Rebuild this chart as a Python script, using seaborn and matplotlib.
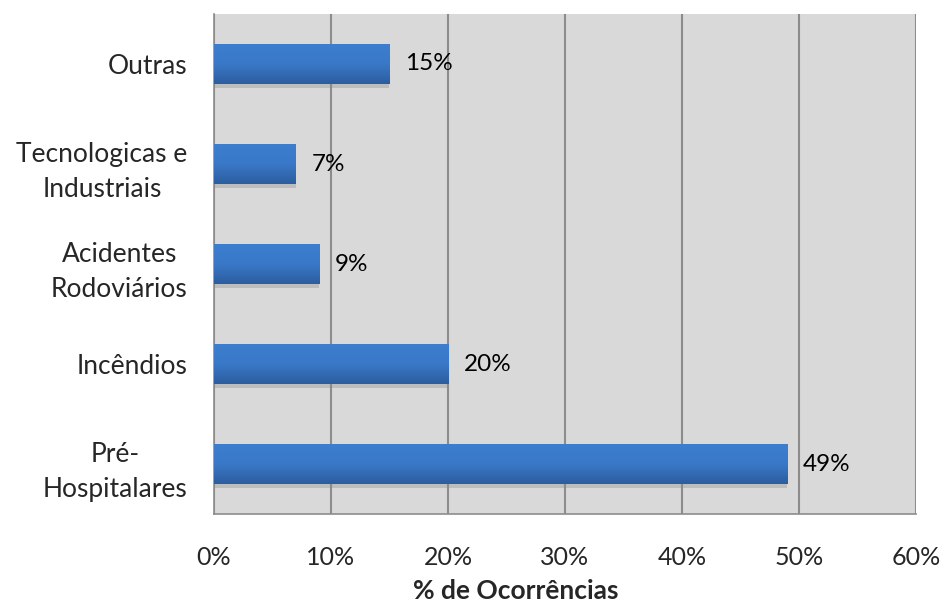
import numpy as np
import pandas as pd
import matplotlib
matplotlib.use("Agg")
import matplotlib.pyplot as plt
import matplotlib.patheffects as pe
from matplotlib.colors import LinearSegmentedColormap
import seaborn as sns

# dados do gráfico
categorias = ["Outras", "Tecnologicas e\nIndustriais", "Acidentes\nRodoviários",
              "Incêndios", "Pré-\nHospitalares"]
percentagens = [15, 7, 9, 20, 49]
ticks_x = [0, 10, 20, 30, 40, 50, 60]

df = pd.DataFrame({"categoria": categorias, "pct": percentagens})

sns.set_theme(style="white")
plt.rcParams['font.family'] = ['Lato', 'DejaVu Sans']

fig = plt.figure(figsize=(9.43, 6.06), dpi=100)
ax = fig.add_axes([0.2269, 0.1518, 0.9714 - 0.2269, 0.9769 - 0.1518])
ax.set_facecolor("#D9D9D9")

sns.barplot(data=df, x="pct", y="categoria", orient="h", width=0.4,
            color="#3A78C8", linewidth=0, ax=ax, zorder=3)

# gradiente nas barras
grad = LinearSegmentedColormap.from_list("g", ["#2C5D9E", "#3A79C9", "#3D7ECF"])
gimg = np.linspace(0, 1, 100).reshape(-1, 1)
for p in ax.patches:
    x0, y0 = p.get_x(), p.get_y()
    w, h = p.get_width(), p.get_height()
    p.set_edgecolor("none")
    p.set_path_effects([pe.SimplePatchShadow(offset=(0, -3), shadow_rgbFace="#8A8A8A", alpha=0.35),
                        pe.Normal()])
    im = ax.imshow(gimg, cmap=grad, aspect="auto", extent=(x0, x0 + w, y0 + h, y0),
                   origin="lower", zorder=4)
    im.set_clip_path(p)
    ax.text(x0 + w + 1.35, y0 + h / 2, f"{w:.0f}%", va="center", ha="left",
            fontsize=17.5, color="black", zorder=5)

ax.set_xlim(0, 60)
ax.set_ylim(len(categorias) - 0.5, -0.5)
ax.set_xticks(ticks_x)
ax.set_xticklabels([f"{t}%" for t in ticks_x])

# grelha vertical
ax.grid(axis="x", color="#8C8C8C", linewidth=1.5, zorder=1)
ax.set_axisbelow(True)

# eixos
for s in ["top", "right"]:
    ax.spines[s].set_visible(False)
for s in ["left", "bottom"]:
    ax.spines[s].set_color("#8C8C8C")
    ax.spines[s].set_linewidth(1.2)

ax.set_yticks(np.arange(len(categorias)))
ax.set_yticklabels(categorias, fontsize=19, linespacing=1.5)
ax.tick_params(axis="y", which="major", length=0, pad=19)
ax.set_yticks(np.arange(-0.5, len(categorias), 1), minor=True)
ax.tick_params(axis="y", which="minor", length=6, width=1.2, color="#8C8C8C", direction="out")
ax.tick_params(axis="x", length=6, width=1.2, color="#8C8C8C", direction="out",
               labelsize=18, pad=17)
for lbl in ax.get_yticklabels():
    lbl.set_ha("right")
    lbl.set_multialignment("center")

ax.set_ylabel("")
ax.set_xlabel("% de Ocorrências", fontsize=19, fontweight="bold")
ax.xaxis.set_label_coords(0.430, -0.154)
ax.xaxis.label.set_va("center")

fig.savefig("out.png", dpi=100)
